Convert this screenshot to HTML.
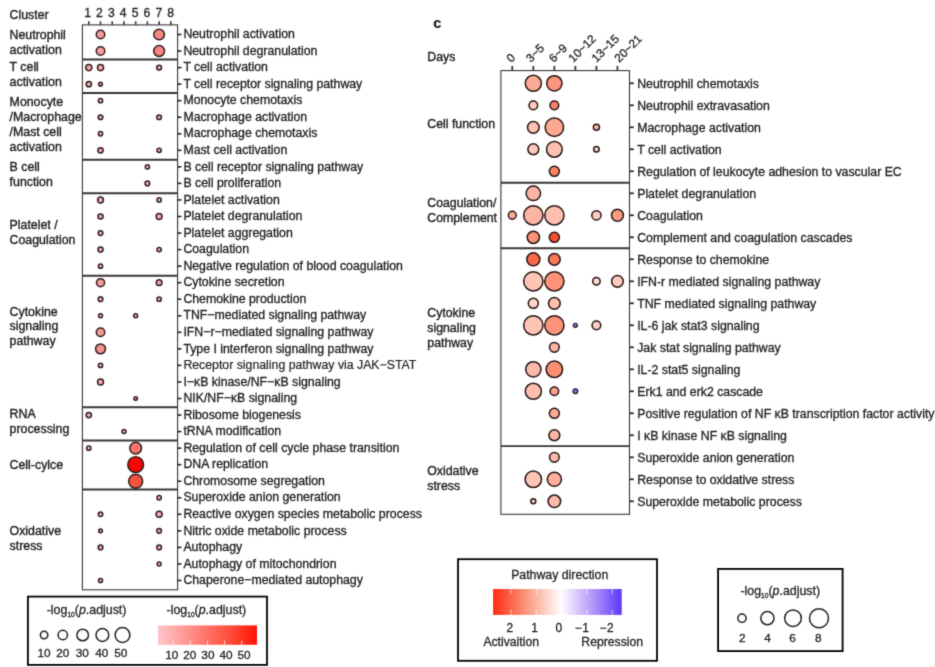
<!DOCTYPE html>
<html lang="en">
<head>
<meta charset="utf-8">
<title>Pathway enrichment dot plots</title>
<style>
html,body{margin:0;padding:0;background:#fff;}
body{width:935px;height:667px;overflow:hidden;}
svg{display:block;}
svg text{font-family:"Liberation Sans",sans-serif;fill:#231f20;stroke:#231f20;stroke-width:0.32px;}
svg text.lg{stroke-width:0.3px;}
svg text.gp{stroke-width:0.38px;}
</style>
</head>
<body>
<svg width="935" height="667" viewBox="0 0 935 667">
<defs>
<filter id="soft" x="0" y="0" width="935" height="667" filterUnits="userSpaceOnUse" color-interpolation-filters="sRGB"><feConvolveMatrix order="3" kernelMatrix="0.0192 0.1001 0.0192 0.1001 0.5228 0.1001 0.0192 0.1001 0.0192" edgeMode="duplicate" preserveAlpha="true"/></filter>
<linearGradient id="gl" x1="0" y1="0" x2="1" y2="0">
<stop offset="0" stop-color="#ffc6ca"/>
<stop offset="0.25" stop-color="#ff9c98"/>
<stop offset="0.5" stop-color="#ff7266"/>
<stop offset="0.75" stop-color="#ff4836"/>
<stop offset="1" stop-color="#ff1206"/>
</linearGradient>
<linearGradient id="gr" x1="0" y1="0" x2="1" y2="0">
<stop offset="0" stop-color="#ff2a10"/>
<stop offset="0.25" stop-color="#fb9478"/>
<stop offset="0.53" stop-color="#ffffff"/>
<stop offset="0.66" stop-color="#d8c4fd"/>
<stop offset="0.80" stop-color="#ab8cfb"/>
<stop offset="1" stop-color="#5a38fb"/>
</linearGradient>
</defs>
<g filter="url(#soft)">
<rect x="0" y="0" width="935" height="667" fill="#ffffff"/>
<rect x="82.4" y="24.9" width="95.19999999999999" height="564.9" fill="#fff" stroke="#3a3436" stroke-width="1.1"/>
<line x1="82.4" y1="59.52" x2="177.6" y2="59.52" stroke="#3a3436" stroke-width="2"/>
<line x1="82.4" y1="93.01" x2="177.6" y2="93.01" stroke="#3a3436" stroke-width="2"/>
<line x1="82.4" y1="159.79" x2="177.6" y2="159.79" stroke="#3a3436" stroke-width="2"/>
<line x1="82.4" y1="193.28" x2="177.6" y2="193.28" stroke="#3a3436" stroke-width="2"/>
<line x1="82.4" y1="275.85" x2="177.6" y2="275.85" stroke="#3a3436" stroke-width="2"/>
<line x1="82.4" y1="407.16" x2="177.6" y2="407.16" stroke="#3a3436" stroke-width="2"/>
<line x1="82.4" y1="440.45" x2="177.6" y2="440.45" stroke="#3a3436" stroke-width="2"/>
<line x1="82.4" y1="489.49" x2="177.6" y2="489.49" stroke="#3a3436" stroke-width="2"/>
<line x1="88.80" y1="21.299999999999997" x2="88.80" y2="24.9" stroke="#3a3436" stroke-width="1.6"/>
<text x="87.60" y="16.8" font-size="12.2" text-anchor="middle" >1</text>
<line x1="100.52" y1="21.299999999999997" x2="100.52" y2="24.9" stroke="#3a3436" stroke-width="1.6"/>
<text x="99.47" y="16.8" font-size="12.2" text-anchor="middle" >2</text>
<line x1="112.24" y1="21.299999999999997" x2="112.24" y2="24.9" stroke="#3a3436" stroke-width="1.6"/>
<text x="111.34" y="16.8" font-size="12.2" text-anchor="middle" >3</text>
<line x1="123.96" y1="21.299999999999997" x2="123.96" y2="24.9" stroke="#3a3436" stroke-width="1.6"/>
<text x="123.21" y="16.8" font-size="12.2" text-anchor="middle" >4</text>
<line x1="135.68" y1="21.299999999999997" x2="135.68" y2="24.9" stroke="#3a3436" stroke-width="1.6"/>
<text x="135.08" y="16.8" font-size="12.2" text-anchor="middle" >5</text>
<line x1="147.40" y1="21.299999999999997" x2="147.40" y2="24.9" stroke="#3a3436" stroke-width="1.6"/>
<text x="146.95" y="16.8" font-size="12.2" text-anchor="middle" >6</text>
<line x1="159.12" y1="21.299999999999997" x2="159.12" y2="24.9" stroke="#3a3436" stroke-width="1.6"/>
<text x="158.82" y="16.8" font-size="12.2" text-anchor="middle" >7</text>
<line x1="170.84" y1="21.299999999999997" x2="170.84" y2="24.9" stroke="#3a3436" stroke-width="1.6"/>
<text x="170.69" y="16.8" font-size="12.2" text-anchor="middle" >8</text>
<line x1="177.6" y1="34.50" x2="181.4" y2="34.50" stroke="#231f20" stroke-width="1.6"/>
<text x="183.4" y="38.20" font-size="12.3" text-anchor="start" >Neutrophil activation</text>
<circle cx="100.52" cy="34.50" r="4.25" fill="#f99c9b" stroke="#2e1f1e" stroke-width="1.5"/>
<circle cx="159.12" cy="34.50" r="5.3500000000000005" fill="#f78680" stroke="#2e1f1e" stroke-width="1.5"/>
<line x1="177.6" y1="51.05" x2="181.4" y2="51.05" stroke="#231f20" stroke-width="1.6"/>
<text x="183.4" y="54.75" font-size="12.3" text-anchor="start" >Neutrophil degranulation</text>
<circle cx="100.52" cy="51.05" r="4.25" fill="#f99c9b" stroke="#2e1f1e" stroke-width="1.5"/>
<circle cx="159.12" cy="51.05" r="5.45" fill="#f78680" stroke="#2e1f1e" stroke-width="1.5"/>
<line x1="177.6" y1="67.59" x2="181.4" y2="67.59" stroke="#231f20" stroke-width="1.6"/>
<text x="183.4" y="71.29" font-size="12.3" text-anchor="start" >T cell activation</text>
<circle cx="88.80" cy="67.59" r="3.05" fill="#fbaab0" stroke="#2e1f1e" stroke-width="1.5"/>
<circle cx="100.52" cy="67.59" r="3.05" fill="#fbaab0" stroke="#2e1f1e" stroke-width="1.5"/>
<circle cx="159.12" cy="67.59" r="2.4499999999999997" fill="#fbb2b8" stroke="#2e1f1e" stroke-width="1.5"/>
<line x1="177.6" y1="84.14" x2="181.4" y2="84.14" stroke="#231f20" stroke-width="1.6"/>
<text x="183.4" y="87.84" font-size="12.3" text-anchor="start" >T cell receptor signaling pathway</text>
<circle cx="88.80" cy="84.14" r="2.65" fill="#fbaab0" stroke="#2e1f1e" stroke-width="1.5"/>
<circle cx="100.52" cy="84.14" r="1.8499999999999999" fill="#fbb2b8" stroke="#2e1f1e" stroke-width="1.5"/>
<line x1="177.6" y1="100.68" x2="181.4" y2="100.68" stroke="#231f20" stroke-width="1.6"/>
<text x="183.4" y="104.38" font-size="12.3" text-anchor="start" >Monocyte chemotaxis</text>
<circle cx="100.52" cy="100.68" r="2.15" fill="#fbb2b8" stroke="#2e1f1e" stroke-width="1.5"/>
<line x1="177.6" y1="117.23" x2="181.4" y2="117.23" stroke="#231f20" stroke-width="1.6"/>
<text x="183.4" y="120.93" font-size="12.3" text-anchor="start" >Macrophage activation</text>
<circle cx="100.52" cy="117.23" r="2.35" fill="#fbaab0" stroke="#2e1f1e" stroke-width="1.5"/>
<circle cx="159.12" cy="117.23" r="2.35" fill="#fbaab0" stroke="#2e1f1e" stroke-width="1.5"/>
<line x1="177.6" y1="133.77" x2="181.4" y2="133.77" stroke="#231f20" stroke-width="1.6"/>
<text x="183.4" y="137.47" font-size="12.3" text-anchor="start" >Macrophage chemotaxis</text>
<circle cx="100.52" cy="133.77" r="2.15" fill="#fbb2b8" stroke="#2e1f1e" stroke-width="1.5"/>
<line x1="177.6" y1="150.31" x2="181.4" y2="150.31" stroke="#231f20" stroke-width="1.6"/>
<text x="183.4" y="154.01" font-size="12.3" text-anchor="start" >Mast cell activation</text>
<circle cx="100.52" cy="150.31" r="2.65" fill="#fbaab0" stroke="#2e1f1e" stroke-width="1.5"/>
<circle cx="159.12" cy="150.31" r="2.15" fill="#fbb2b8" stroke="#2e1f1e" stroke-width="1.5"/>
<line x1="177.6" y1="166.86" x2="181.4" y2="166.86" stroke="#231f20" stroke-width="1.6"/>
<text x="183.4" y="170.56" font-size="12.3" text-anchor="start" >B cell receptor signaling pathway</text>
<circle cx="147.40" cy="166.86" r="2.15" fill="#fbb2b8" stroke="#2e1f1e" stroke-width="1.5"/>
<line x1="177.6" y1="183.41" x2="181.4" y2="183.41" stroke="#231f20" stroke-width="1.6"/>
<text x="183.4" y="187.11" font-size="12.3" text-anchor="start" >B cell proliferation</text>
<circle cx="147.40" cy="183.41" r="2.35" fill="#fbaab0" stroke="#2e1f1e" stroke-width="1.5"/>
<line x1="177.6" y1="199.95" x2="181.4" y2="199.95" stroke="#231f20" stroke-width="1.6"/>
<text x="183.4" y="203.65" font-size="12.3" text-anchor="start" >Platelet activation</text>
<circle cx="100.52" cy="199.95" r="2.9499999999999997" fill="#fbaab0" stroke="#2e1f1e" stroke-width="1.5"/>
<circle cx="159.12" cy="199.95" r="2.15" fill="#fbb2b8" stroke="#2e1f1e" stroke-width="1.5"/>
<line x1="177.6" y1="216.50" x2="181.4" y2="216.50" stroke="#231f20" stroke-width="1.6"/>
<text x="183.4" y="220.19" font-size="12.3" text-anchor="start" >Platelet degranulation</text>
<circle cx="100.52" cy="216.50" r="2.55" fill="#fbaab0" stroke="#2e1f1e" stroke-width="1.5"/>
<circle cx="159.12" cy="216.50" r="2.9499999999999997" fill="#fbaab0" stroke="#2e1f1e" stroke-width="1.5"/>
<line x1="177.6" y1="233.04" x2="181.4" y2="233.04" stroke="#231f20" stroke-width="1.6"/>
<text x="183.4" y="236.74" font-size="12.3" text-anchor="start" >Platelet aggregation</text>
<circle cx="100.52" cy="233.04" r="2.35" fill="#fbb2b8" stroke="#2e1f1e" stroke-width="1.5"/>
<line x1="177.6" y1="249.59" x2="181.4" y2="249.59" stroke="#231f20" stroke-width="1.6"/>
<text x="183.4" y="253.29" font-size="12.3" text-anchor="start" >Coagulation</text>
<circle cx="100.52" cy="249.59" r="2.55" fill="#fbaab0" stroke="#2e1f1e" stroke-width="1.5"/>
<circle cx="159.12" cy="249.59" r="2.15" fill="#fbb2b8" stroke="#2e1f1e" stroke-width="1.5"/>
<line x1="177.6" y1="266.13" x2="181.4" y2="266.13" stroke="#231f20" stroke-width="1.6"/>
<text x="183.4" y="269.83" font-size="12.3" text-anchor="start" >Negative regulation of blood coagulation</text>
<circle cx="100.52" cy="266.13" r="2.15" fill="#fbb2b8" stroke="#2e1f1e" stroke-width="1.5"/>
<line x1="177.6" y1="282.68" x2="181.4" y2="282.68" stroke="#231f20" stroke-width="1.6"/>
<text x="183.4" y="286.38" font-size="12.3" text-anchor="start" >Cytokine secretion</text>
<circle cx="100.52" cy="282.68" r="4.05" fill="#f79a96" stroke="#2e1f1e" stroke-width="1.5"/>
<circle cx="159.12" cy="282.68" r="2.85" fill="#fbaab0" stroke="#2e1f1e" stroke-width="1.5"/>
<line x1="177.6" y1="299.22" x2="181.4" y2="299.22" stroke="#231f20" stroke-width="1.6"/>
<text x="183.4" y="302.92" font-size="12.3" text-anchor="start" >Chemokine production</text>
<circle cx="100.52" cy="299.22" r="2.35" fill="#fbaab0" stroke="#2e1f1e" stroke-width="1.5"/>
<circle cx="159.12" cy="299.22" r="2.15" fill="#fbb2b8" stroke="#2e1f1e" stroke-width="1.5"/>
<line x1="177.6" y1="315.77" x2="181.4" y2="315.77" stroke="#231f20" stroke-width="1.6"/>
<text x="183.4" y="319.47" font-size="12.3" text-anchor="start" >TNF−mediated signaling pathway</text>
<circle cx="100.52" cy="315.77" r="1.95" fill="#fbb2b8" stroke="#2e1f1e" stroke-width="1.5"/>
<circle cx="135.68" cy="315.77" r="1.95" fill="#fbb2b8" stroke="#2e1f1e" stroke-width="1.5"/>
<line x1="177.6" y1="332.31" x2="181.4" y2="332.31" stroke="#231f20" stroke-width="1.6"/>
<text x="183.4" y="336.01" font-size="12.3" text-anchor="start" >IFN−r−mediated signaling pathway</text>
<circle cx="100.52" cy="332.31" r="4.25" fill="#f79a96" stroke="#2e1f1e" stroke-width="1.5"/>
<line x1="177.6" y1="348.86" x2="181.4" y2="348.86" stroke="#231f20" stroke-width="1.6"/>
<text x="183.4" y="352.56" font-size="12.3" text-anchor="start" >Type I interferon signaling pathway</text>
<circle cx="100.52" cy="348.86" r="4.95" fill="#f6908c" stroke="#2e1f1e" stroke-width="1.5"/>
<line x1="177.6" y1="365.40" x2="181.4" y2="365.40" stroke="#231f20" stroke-width="1.6"/>
<text x="183.4" y="369.10" font-size="12.3" text-anchor="start" fill="#5c4e4c" stroke="#5c4e4c" style="stroke-width:0.2px">Receptor signaling pathway via JAK−STAT</text>
<circle cx="100.52" cy="365.40" r="2.15" fill="#fbb2b8" stroke="#2e1f1e" stroke-width="1.5"/>
<line x1="177.6" y1="381.95" x2="181.4" y2="381.95" stroke="#231f20" stroke-width="1.6"/>
<text x="183.4" y="385.65" font-size="12.3" text-anchor="start" >I−κB kinase/NF−κB signaling</text>
<circle cx="100.52" cy="381.95" r="2.9499999999999997" fill="#fbaab0" stroke="#2e1f1e" stroke-width="1.5"/>
<line x1="177.6" y1="398.49" x2="181.4" y2="398.49" stroke="#231f20" stroke-width="1.6"/>
<text x="183.4" y="402.19" font-size="12.3" text-anchor="start" >NIK/NF−κB signaling</text>
<circle cx="135.68" cy="398.49" r="1.75" fill="#f29a9c" stroke="#2e1f1e" stroke-width="1.5"/>
<line x1="177.6" y1="415.04" x2="181.4" y2="415.04" stroke="#231f20" stroke-width="1.6"/>
<text x="183.4" y="418.74" font-size="12.3" text-anchor="start" >Ribosome biogenesis</text>
<circle cx="88.80" cy="415.04" r="2.65" fill="#fbaab0" stroke="#2e1f1e" stroke-width="1.5"/>
<line x1="177.6" y1="431.58" x2="181.4" y2="431.58" stroke="#231f20" stroke-width="1.6"/>
<text x="183.4" y="435.28" font-size="12.3" text-anchor="start" >tRNA modification</text>
<circle cx="123.96" cy="431.58" r="2.0" fill="#fbb2b8" stroke="#2e1f1e" stroke-width="1.5"/>
<line x1="177.6" y1="448.13" x2="181.4" y2="448.13" stroke="#231f20" stroke-width="1.6"/>
<text x="183.4" y="451.83" font-size="12.3" text-anchor="start" >Regulation of cell cycle phase transition</text>
<circle cx="88.80" cy="448.13" r="2.15" fill="#fbb2b8" stroke="#2e1f1e" stroke-width="1.5"/>
<circle cx="135.68" cy="448.13" r="5.8500000000000005" fill="#f7766c" stroke="#2e1f1e" stroke-width="1.5"/>
<line x1="177.6" y1="464.67" x2="181.4" y2="464.67" stroke="#231f20" stroke-width="1.6"/>
<text x="183.4" y="468.37" font-size="12.3" text-anchor="start" >DNA replication</text>
<circle cx="135.68" cy="464.67" r="7.9" fill="#fa0505" stroke="#2e1f1e" stroke-width="1.5"/>
<line x1="177.6" y1="481.22" x2="181.4" y2="481.22" stroke="#231f20" stroke-width="1.6"/>
<text x="183.4" y="484.92" font-size="12.3" text-anchor="start" >Chromosome segregation</text>
<circle cx="135.68" cy="481.22" r="7.0" fill="#f5523f" stroke="#2e1f1e" stroke-width="1.5"/>
<line x1="177.6" y1="497.76" x2="181.4" y2="497.76" stroke="#231f20" stroke-width="1.6"/>
<text x="183.4" y="501.46" font-size="12.3" text-anchor="start" >Superoxide anion generation</text>
<circle cx="159.12" cy="497.76" r="2.15" fill="#fbb2b8" stroke="#2e1f1e" stroke-width="1.5"/>
<line x1="177.6" y1="514.31" x2="181.4" y2="514.31" stroke="#231f20" stroke-width="1.6"/>
<text x="183.4" y="518.01" font-size="12.3" text-anchor="start" >Reactive oxygen species metabolic process</text>
<circle cx="100.52" cy="514.31" r="2.25" fill="#fbb2b8" stroke="#2e1f1e" stroke-width="1.5"/>
<circle cx="159.12" cy="514.31" r="3.05" fill="#fbaab0" stroke="#2e1f1e" stroke-width="1.5"/>
<line x1="177.6" y1="530.85" x2="181.4" y2="530.85" stroke="#231f20" stroke-width="1.6"/>
<text x="183.4" y="534.55" font-size="12.3" text-anchor="start" >Nitric oxide metabolic process</text>
<circle cx="100.52" cy="530.85" r="1.8499999999999999" fill="#fbb2b8" stroke="#2e1f1e" stroke-width="1.5"/>
<circle cx="159.12" cy="530.85" r="2.35" fill="#fbaab0" stroke="#2e1f1e" stroke-width="1.5"/>
<line x1="177.6" y1="547.40" x2="181.4" y2="547.40" stroke="#231f20" stroke-width="1.6"/>
<text x="183.4" y="551.10" font-size="12.3" text-anchor="start" >Autophagy</text>
<circle cx="100.52" cy="547.40" r="2.35" fill="#fbaab0" stroke="#2e1f1e" stroke-width="1.5"/>
<circle cx="159.12" cy="547.40" r="2.35" fill="#fbaab0" stroke="#2e1f1e" stroke-width="1.5"/>
<line x1="177.6" y1="563.94" x2="181.4" y2="563.94" stroke="#231f20" stroke-width="1.6"/>
<text x="183.4" y="567.64" font-size="12.3" text-anchor="start" >Autophagy of mitochondrion</text>
<circle cx="159.12" cy="563.94" r="1.95" fill="#fbb2b8" stroke="#2e1f1e" stroke-width="1.5"/>
<line x1="177.6" y1="580.49" x2="181.4" y2="580.49" stroke="#231f20" stroke-width="1.6"/>
<text x="183.4" y="584.19" font-size="12.3" text-anchor="start" >Chaperone−mediated autophagy</text>
<circle cx="100.52" cy="580.49" r="2.05" fill="#fbb2b8" stroke="#2e1f1e" stroke-width="1.5"/>
<text x="9.6" y="18.7" font-size="12.35" text-anchor="start" class="gp">Cluster</text>
<text x="9.6" y="39.2" font-size="12.35" text-anchor="start" class="gp">Neutrophil</text>
<text x="9.6" y="53.8" font-size="12.35" text-anchor="start" class="gp">activation</text>
<text x="9.6" y="71.3" font-size="12.35" text-anchor="start" class="gp">T cell</text>
<text x="9.6" y="86.2" font-size="12.35" text-anchor="start" class="gp">activation</text>
<text x="9.6" y="105.9" font-size="12.35" text-anchor="start" class="gp">Monocyte</text>
<text x="9.6" y="121.1" font-size="12.35" text-anchor="start" class="gp">/Macrophage</text>
<text x="9.6" y="135.9" font-size="12.35" text-anchor="start" class="gp">/Mast cell</text>
<text x="9.6" y="150.5" font-size="12.35" text-anchor="start" class="gp">activation</text>
<text x="9.6" y="171.0" font-size="12.35" text-anchor="start" class="gp">B cell</text>
<text x="9.6" y="186.0" font-size="12.35" text-anchor="start" class="gp">function</text>
<text x="9.6" y="229.0" font-size="12.35" text-anchor="start" class="gp">Platelet /</text>
<text x="9.6" y="243.7" font-size="12.35" text-anchor="start" class="gp">Coagulation</text>
<text x="9.6" y="315.5" font-size="12.35" text-anchor="start" class="gp">Cytokine</text>
<text x="9.6" y="330.2" font-size="12.35" text-anchor="start" class="gp">signaling</text>
<text x="9.6" y="344.9" font-size="12.35" text-anchor="start" class="gp">pathway</text>
<text x="9.6" y="418.4" font-size="12.35" text-anchor="start" class="gp">RNA</text>
<text x="9.6" y="433.4" font-size="12.35" text-anchor="start" class="gp">processing</text>
<text x="9.6" y="468.5" font-size="12.35" text-anchor="start" class="gp">Cell-cylce</text>
<text x="9.6" y="534.5" font-size="12.35" text-anchor="start" class="gp">Oxidative</text>
<text x="9.6" y="549.5" font-size="12.35" text-anchor="start" class="gp">stress</text>
<rect x="27.9" y="596.6" width="239.1" height="68.3" fill="#fff" stroke="#000" stroke-width="1.8"/>
<text x="86.6" y="614.3" font-size="12.4" text-anchor="middle" class="lg">-log<tspan font-size="6.6" dy="2.4">10</tspan><tspan dy="-2.4">(</tspan><tspan font-style="italic">p</tspan>.adjust)</text>
<text x="206.4" y="614.3" font-size="12.4" text-anchor="middle" class="lg">-log<tspan font-size="6.6" dy="2.4">10</tspan><tspan dy="-2.4">(</tspan><tspan font-style="italic">p</tspan>.adjust)</text>
<circle cx="44.1" cy="635.0" r="3.7" fill="#fff" stroke="#231f20" stroke-width="1.5"/>
<text x="44.0" y="656.7" font-size="11.8" text-anchor="middle" class="lg">10</text>
<circle cx="62.8" cy="635.0" r="4.7" fill="#fff" stroke="#231f20" stroke-width="1.5"/>
<text x="62.8" y="656.7" font-size="11.8" text-anchor="middle" class="lg">20</text>
<circle cx="82.7" cy="635.0" r="5.8" fill="#fff" stroke="#231f20" stroke-width="1.5"/>
<text x="82.3" y="656.7" font-size="11.8" text-anchor="middle" class="lg">30</text>
<circle cx="102.4" cy="635.0" r="6.4" fill="#fff" stroke="#231f20" stroke-width="1.5"/>
<text x="101.8" y="656.7" font-size="11.8" text-anchor="middle" class="lg">40</text>
<circle cx="122.5" cy="635.0" r="7.4" fill="#fff" stroke="#231f20" stroke-width="1.5"/>
<text x="120.8" y="656.7" font-size="11.8" text-anchor="middle" class="lg">50</text>
<rect x="158" y="625.4" width="99" height="19.4" fill="url(#gl)"/>
<line x1="173.20" y1="640.6" x2="173.20" y2="644.8" stroke="#fff" stroke-width="1.0" opacity="0.75"/>
<text x="171.7" y="658.6" font-size="11.8" text-anchor="middle" class="lg">10</text>
<line x1="190.35" y1="640.6" x2="190.35" y2="644.8" stroke="#fff" stroke-width="1.0" opacity="0.75"/>
<text x="189.7" y="658.6" font-size="11.8" text-anchor="middle" class="lg">20</text>
<line x1="207.50" y1="640.6" x2="207.50" y2="644.8" stroke="#fff" stroke-width="1.0" opacity="0.75"/>
<text x="207.9" y="658.6" font-size="11.8" text-anchor="middle" class="lg">30</text>
<line x1="224.65" y1="640.6" x2="224.65" y2="644.8" stroke="#fff" stroke-width="1.0" opacity="0.75"/>
<text x="226.0" y="658.6" font-size="11.8" text-anchor="middle" class="lg">40</text>
<line x1="241.80" y1="640.6" x2="241.80" y2="644.8" stroke="#fff" stroke-width="1.0" opacity="0.75"/>
<text x="244.0" y="658.6" font-size="11.8" text-anchor="middle" class="lg">50</text>
<rect x="500.9" y="70.6" width="128.60000000000002" height="443.69999999999993" fill="#fff" stroke="#3a3436" stroke-width="1.1"/>
<line x1="500.9" y1="182.70" x2="629.5" y2="182.70" stroke="#3a3436" stroke-width="1.9"/>
<line x1="500.9" y1="248.30" x2="629.5" y2="248.30" stroke="#3a3436" stroke-width="1.9"/>
<line x1="500.9" y1="446.10" x2="629.5" y2="446.10" stroke="#3a3436" stroke-width="1.9"/>
<line x1="512.30" y1="66.0" x2="512.30" y2="70.6" stroke="#3a3436" stroke-width="1.8"/>
<text x="0" y="0" font-size="11.8" text-anchor="start" transform="translate(511.20,62.99999999999999) rotate(-45)">0</text>
<line x1="533.33" y1="66.0" x2="533.33" y2="70.6" stroke="#3a3436" stroke-width="1.8"/>
<text x="0" y="0" font-size="11.8" text-anchor="start" transform="translate(530.83,62.99999999999999) rotate(-45)">3~5</text>
<line x1="554.36" y1="66.0" x2="554.36" y2="70.6" stroke="#3a3436" stroke-width="1.8"/>
<text x="0" y="0" font-size="11.8" text-anchor="start" transform="translate(553.86,62.99999999999999) rotate(-45)">6~9</text>
<line x1="575.39" y1="66.0" x2="575.39" y2="70.6" stroke="#3a3436" stroke-width="1.8"/>
<text x="0" y="0" font-size="11.8" text-anchor="start" transform="translate(573.29,62.99999999999999) rotate(-45)">10~12</text>
<line x1="596.42" y1="66.0" x2="596.42" y2="70.6" stroke="#3a3436" stroke-width="1.8"/>
<text x="0" y="0" font-size="11.8" text-anchor="start" transform="translate(596.42,62.99999999999999) rotate(-45)">13~15</text>
<line x1="617.45" y1="66.0" x2="617.45" y2="70.6" stroke="#3a3436" stroke-width="1.8"/>
<text x="0" y="0" font-size="11.8" text-anchor="start" transform="translate(619.25,62.99999999999999) rotate(-45)">20~21</text>
<line x1="629.5" y1="83.30" x2="633.8" y2="83.30" stroke="#231f20" stroke-width="1.7"/>
<text x="637.2" y="88.00" font-size="12.3" text-anchor="start" >Neutrophil chemotaxis</text>
<circle cx="533.33" cy="83.30" r="8.05" fill="#fcab96" stroke="#261615" stroke-width="1.5"/>
<circle cx="554.36" cy="83.30" r="7.6499999999999995" fill="#fb967e" stroke="#261615" stroke-width="1.5"/>
<line x1="629.5" y1="105.30" x2="633.8" y2="105.30" stroke="#231f20" stroke-width="1.7"/>
<text x="637.2" y="110.02" font-size="12.3" text-anchor="start" >Neutrophil extravasation</text>
<circle cx="533.33" cy="105.30" r="4.35" fill="#fecbbe" stroke="#261615" stroke-width="1.5"/>
<circle cx="554.36" cy="105.30" r="4.35" fill="#fb8265" stroke="#261615" stroke-width="1.5"/>
<line x1="629.5" y1="127.30" x2="633.8" y2="127.30" stroke="#231f20" stroke-width="1.7"/>
<text x="637.2" y="132.04" font-size="12.3" text-anchor="start" >Macrophage activation</text>
<circle cx="533.33" cy="127.30" r="5.85" fill="#fec4b5" stroke="#261615" stroke-width="1.5"/>
<circle cx="554.36" cy="127.30" r="9.25" fill="#fca893" stroke="#261615" stroke-width="1.5"/>
<circle cx="596.42" cy="127.30" r="3.05" fill="#fdbaa8" stroke="#261615" stroke-width="1.5"/>
<line x1="629.5" y1="149.30" x2="633.8" y2="149.30" stroke="#231f20" stroke-width="1.7"/>
<text x="637.2" y="154.06" font-size="12.3" text-anchor="start" >T cell activation</text>
<circle cx="533.33" cy="149.30" r="5.45" fill="#fec9bc" stroke="#261615" stroke-width="1.5"/>
<circle cx="554.36" cy="149.30" r="7.85" fill="#febfb0" stroke="#261615" stroke-width="1.5"/>
<circle cx="596.42" cy="149.30" r="2.75" fill="#ffd8cf" stroke="#261615" stroke-width="1.5"/>
<line x1="629.5" y1="171.30" x2="633.8" y2="171.30" stroke="#231f20" stroke-width="1.7"/>
<text x="637.2" y="176.08" font-size="12.3" text-anchor="start" >Regulation of leukocyte adhesion to vascular EC</text>
<circle cx="554.36" cy="171.30" r="5.05" fill="#fb8265" stroke="#261615" stroke-width="1.5"/>
<line x1="629.5" y1="193.30" x2="633.8" y2="193.30" stroke="#231f20" stroke-width="1.7"/>
<text x="637.2" y="198.10" font-size="12.3" text-anchor="start" >Platelet degranulation</text>
<circle cx="533.33" cy="193.30" r="7.25" fill="#fdb5a3" stroke="#261615" stroke-width="1.5"/>
<line x1="629.5" y1="215.30" x2="633.8" y2="215.30" stroke="#231f20" stroke-width="1.7"/>
<text x="637.2" y="220.12" font-size="12.3" text-anchor="start" >Coagulation</text>
<circle cx="512.30" cy="215.30" r="3.9499999999999997" fill="#fcab96" stroke="#261615" stroke-width="1.5"/>
<circle cx="533.33" cy="215.30" r="9.65" fill="#fdb5a3" stroke="#261615" stroke-width="1.5"/>
<circle cx="554.36" cy="215.30" r="9.65" fill="#febfb0" stroke="#261615" stroke-width="1.5"/>
<circle cx="596.42" cy="215.30" r="4.6499999999999995" fill="#fecbbe" stroke="#261615" stroke-width="1.5"/>
<circle cx="617.45" cy="215.30" r="5.95" fill="#fb9c82" stroke="#261615" stroke-width="1.5"/>
<line x1="629.5" y1="237.30" x2="633.8" y2="237.30" stroke="#231f20" stroke-width="1.7"/>
<text x="637.2" y="242.14" font-size="12.3" text-anchor="start" >Complement and coagulation cascades</text>
<circle cx="533.33" cy="237.30" r="6.1499999999999995" fill="#fb9279" stroke="#261615" stroke-width="1.5"/>
<circle cx="554.36" cy="237.30" r="5.05" fill="#f8502c" stroke="#261615" stroke-width="1.5"/>
<line x1="629.5" y1="259.30" x2="633.8" y2="259.30" stroke="#231f20" stroke-width="1.7"/>
<text x="637.2" y="264.16" font-size="12.3" text-anchor="start" >Response to chemokine</text>
<circle cx="533.33" cy="259.30" r="6.55" fill="#f96949" stroke="#261615" stroke-width="1.5"/>
<circle cx="554.36" cy="259.30" r="5.85" fill="#fa7859" stroke="#261615" stroke-width="1.5"/>
<line x1="629.5" y1="281.30" x2="633.8" y2="281.30" stroke="#231f20" stroke-width="1.7"/>
<text x="637.2" y="286.18" font-size="12.3" text-anchor="start" >IFN-r mediated signaling pathway</text>
<circle cx="533.33" cy="281.30" r="9.65" fill="#fec5b6" stroke="#261615" stroke-width="1.5"/>
<circle cx="554.36" cy="281.30" r="9.65" fill="#fb9279" stroke="#261615" stroke-width="1.5"/>
<circle cx="596.42" cy="281.30" r="3.75" fill="#ffd8cf" stroke="#261615" stroke-width="1.5"/>
<circle cx="617.45" cy="281.30" r="5.85" fill="#fecbbe" stroke="#261615" stroke-width="1.5"/>
<line x1="629.5" y1="303.30" x2="633.8" y2="303.30" stroke="#231f20" stroke-width="1.7"/>
<text x="637.2" y="308.20" font-size="12.3" text-anchor="start" >TNF mediated signaling pathway</text>
<circle cx="533.33" cy="303.30" r="5.05" fill="#ffd4c9" stroke="#261615" stroke-width="1.5"/>
<circle cx="554.36" cy="303.30" r="5.85" fill="#febfb0" stroke="#261615" stroke-width="1.5"/>
<line x1="629.5" y1="325.30" x2="633.8" y2="325.30" stroke="#231f20" stroke-width="1.7"/>
<text x="637.2" y="330.22" font-size="12.3" text-anchor="start" >IL-6 jak stat3 signaling</text>
<circle cx="533.33" cy="325.30" r="9.65" fill="#fec5b6" stroke="#261615" stroke-width="1.5"/>
<circle cx="554.36" cy="325.30" r="9.65" fill="#fb9279" stroke="#261615" stroke-width="1.5"/>
<circle cx="575.39" cy="325.30" r="2.05" fill="#8a72ee" stroke="#261615" stroke-width="1.2"/>
<circle cx="596.42" cy="325.30" r="4.35" fill="#fecfc2" stroke="#261615" stroke-width="1.5"/>
<line x1="629.5" y1="347.30" x2="633.8" y2="347.30" stroke="#231f20" stroke-width="1.7"/>
<text x="637.2" y="352.24" font-size="12.3" text-anchor="start" >Jak stat signaling pathway</text>
<circle cx="554.36" cy="347.30" r="4.85" fill="#fdb5a3" stroke="#261615" stroke-width="1.5"/>
<line x1="629.5" y1="369.30" x2="633.8" y2="369.30" stroke="#231f20" stroke-width="1.7"/>
<text x="637.2" y="374.26" font-size="12.3" text-anchor="start" >IL-2 stat5 signaling</text>
<circle cx="533.33" cy="369.30" r="7.6499999999999995" fill="#fdbaa8" stroke="#261615" stroke-width="1.5"/>
<circle cx="554.36" cy="369.30" r="8.25" fill="#fb8d72" stroke="#261615" stroke-width="1.5"/>
<line x1="629.5" y1="391.30" x2="633.8" y2="391.30" stroke="#231f20" stroke-width="1.7"/>
<text x="637.2" y="396.28" font-size="12.3" text-anchor="start" >Erk1 and erk2 cascade</text>
<circle cx="533.33" cy="391.30" r="8.05" fill="#febfb0" stroke="#261615" stroke-width="1.5"/>
<circle cx="554.36" cy="391.30" r="4.25" fill="#fca089" stroke="#261615" stroke-width="1.5"/>
<circle cx="575.39" cy="391.30" r="2.35" fill="#8a72ee" stroke="#261615" stroke-width="1.2"/>
<line x1="629.5" y1="413.30" x2="633.8" y2="413.30" stroke="#231f20" stroke-width="1.7"/>
<text x="637.2" y="418.30" font-size="12.3" text-anchor="start" >Positive regulation of NF κB transcription factor activity</text>
<circle cx="554.36" cy="413.30" r="5.05" fill="#fcab96" stroke="#261615" stroke-width="1.5"/>
<line x1="629.5" y1="435.30" x2="633.8" y2="435.30" stroke="#231f20" stroke-width="1.7"/>
<text x="637.2" y="440.32" font-size="12.3" text-anchor="start" >I κB kinase NF κB signaling</text>
<circle cx="554.36" cy="435.30" r="5.45" fill="#fdb5a3" stroke="#261615" stroke-width="1.5"/>
<line x1="629.5" y1="457.30" x2="633.8" y2="457.30" stroke="#231f20" stroke-width="1.7"/>
<text x="637.2" y="462.34" font-size="12.3" text-anchor="start" >Superoxide anion generation</text>
<circle cx="554.36" cy="457.30" r="4.85" fill="#fdbaa8" stroke="#261615" stroke-width="1.5"/>
<line x1="629.5" y1="479.30" x2="633.8" y2="479.30" stroke="#231f20" stroke-width="1.7"/>
<text x="637.2" y="484.36" font-size="12.3" text-anchor="start" >Response to oxidative stress</text>
<circle cx="533.33" cy="479.30" r="8.25" fill="#fec4b5" stroke="#261615" stroke-width="1.5"/>
<circle cx="554.36" cy="479.30" r="7.05" fill="#fdb19d" stroke="#261615" stroke-width="1.5"/>
<line x1="629.5" y1="501.30" x2="633.8" y2="501.30" stroke="#231f20" stroke-width="1.7"/>
<text x="637.2" y="506.38" font-size="12.3" text-anchor="start" >Superoxide metabolic process</text>
<circle cx="533.33" cy="501.30" r="2.4499999999999997" fill="#ffd8cf" stroke="#261615" stroke-width="1.5"/>
<circle cx="554.36" cy="501.30" r="6.25" fill="#fdbaa8" stroke="#261615" stroke-width="1.5"/>
<text x="427.3" y="60.5" font-size="12.3" text-anchor="start" class="gp">Days</text>
<text x="427.3" y="128.3" font-size="12.3" text-anchor="start" class="gp">Cell function</text>
<text x="427.3" y="206.9" font-size="12.3" text-anchor="start" class="gp">Coagulation/</text>
<text x="427.3" y="221.7" font-size="12.3" text-anchor="start" class="gp">Complement</text>
<text x="427.3" y="317.3" font-size="12.3" text-anchor="start" class="gp">Cytokine</text>
<text x="427.3" y="332.3" font-size="12.3" text-anchor="start" class="gp">signaling</text>
<text x="427.3" y="347.3" font-size="12.3" text-anchor="start" class="gp">pathway</text>
<text x="427.3" y="475.0" font-size="12.3" text-anchor="start" class="gp">Oxidative</text>
<text x="427.3" y="489.5" font-size="12.3" text-anchor="start" class="gp">stress</text>
<text x="433.3" y="27.8" font-size="14.5" text-anchor="start" font-weight="bold" fill="#000" stroke="#000" style="stroke-width:0.2px">c</text>
<rect x="458.0" y="559.2" width="199.0" height="101.6" fill="#fff" stroke="#000" stroke-width="1.8"/>
<text x="559.7" y="578.6" font-size="12.3" text-anchor="middle" class="lg">Pathway direction</text>
<rect x="493.1" y="589.0" width="128.6" height="25.9" fill="url(#gr)"/>
<line x1="511.0" y1="589.0" x2="511.0" y2="594" stroke="#fff" stroke-width="0.9" opacity="0.7"/>
<line x1="511.0" y1="609.9" x2="511.0" y2="614.9" stroke="#fff" stroke-width="0.9" opacity="0.7"/>
<text x="509.9" y="631.9" font-size="11.9" text-anchor="middle" class="lg">2</text>
<line x1="536.3" y1="589.0" x2="536.3" y2="594" stroke="#fff" stroke-width="0.9" opacity="0.7"/>
<line x1="536.3" y1="609.9" x2="536.3" y2="614.9" stroke="#fff" stroke-width="0.9" opacity="0.7"/>
<text x="534.5" y="631.9" font-size="11.9" text-anchor="middle" class="lg">1</text>
<line x1="561.6" y1="589.0" x2="561.6" y2="594" stroke="#fff" stroke-width="0.9" opacity="0.7"/>
<line x1="561.6" y1="609.9" x2="561.6" y2="614.9" stroke="#fff" stroke-width="0.9" opacity="0.7"/>
<text x="558.7" y="631.9" font-size="11.9" text-anchor="middle" class="lg">0</text>
<line x1="586.9" y1="589.0" x2="586.9" y2="594" stroke="#fff" stroke-width="0.9" opacity="0.7"/>
<line x1="586.9" y1="609.9" x2="586.9" y2="614.9" stroke="#fff" stroke-width="0.9" opacity="0.7"/>
<text x="582.1" y="631.9" font-size="11.9" text-anchor="middle" class="lg">−1</text>
<line x1="612.2" y1="589.0" x2="612.2" y2="594" stroke="#fff" stroke-width="0.9" opacity="0.7"/>
<line x1="612.2" y1="609.9" x2="612.2" y2="614.9" stroke="#fff" stroke-width="0.9" opacity="0.7"/>
<text x="606.9" y="631.9" font-size="11.9" text-anchor="middle" class="lg">−2</text>
<text x="483.4" y="646.0" font-size="12.2" text-anchor="start" class="lg">Activaition</text>
<text x="643.0" y="646.0" font-size="12.2" text-anchor="end" class="lg">Repression</text>
<rect x="718.1" y="568.9" width="124.5" height="82.2" fill="#fff" stroke="#000" stroke-width="1.8"/>
<text x="780.3" y="595.4" font-size="12.4" text-anchor="middle" class="lg">-log<tspan font-size="6.6" dy="2.4">10</tspan><tspan dy="-2.4">(</tspan><tspan font-style="italic">p</tspan>.adjust)</text>
<circle cx="742.0" cy="618.2" r="4.1" fill="#fff" stroke="#231f20" stroke-width="1.5"/>
<text x="742.4" y="642.3" font-size="11.8" text-anchor="middle" class="lg">2</text>
<circle cx="767.4" cy="618.2" r="6.6" fill="#fff" stroke="#231f20" stroke-width="1.5"/>
<text x="767.6" y="642.3" font-size="11.8" text-anchor="middle" class="lg">4</text>
<circle cx="793.0" cy="618.2" r="8.3" fill="#fff" stroke="#231f20" stroke-width="1.5"/>
<text x="792.5" y="642.3" font-size="11.8" text-anchor="middle" class="lg">6</text>
<circle cx="819.0" cy="618.2" r="9.5" fill="#fff" stroke="#231f20" stroke-width="1.5"/>
<text x="818.3" y="642.3" font-size="11.8" text-anchor="middle" class="lg">8</text>
<path d="M935.6 662 C934.6 664.4 933.4 666 931 667.4" fill="none" stroke="#f6d9b0" stroke-width="1.4" opacity="0.6"/>
</g>
</svg>
</body>
</html>
